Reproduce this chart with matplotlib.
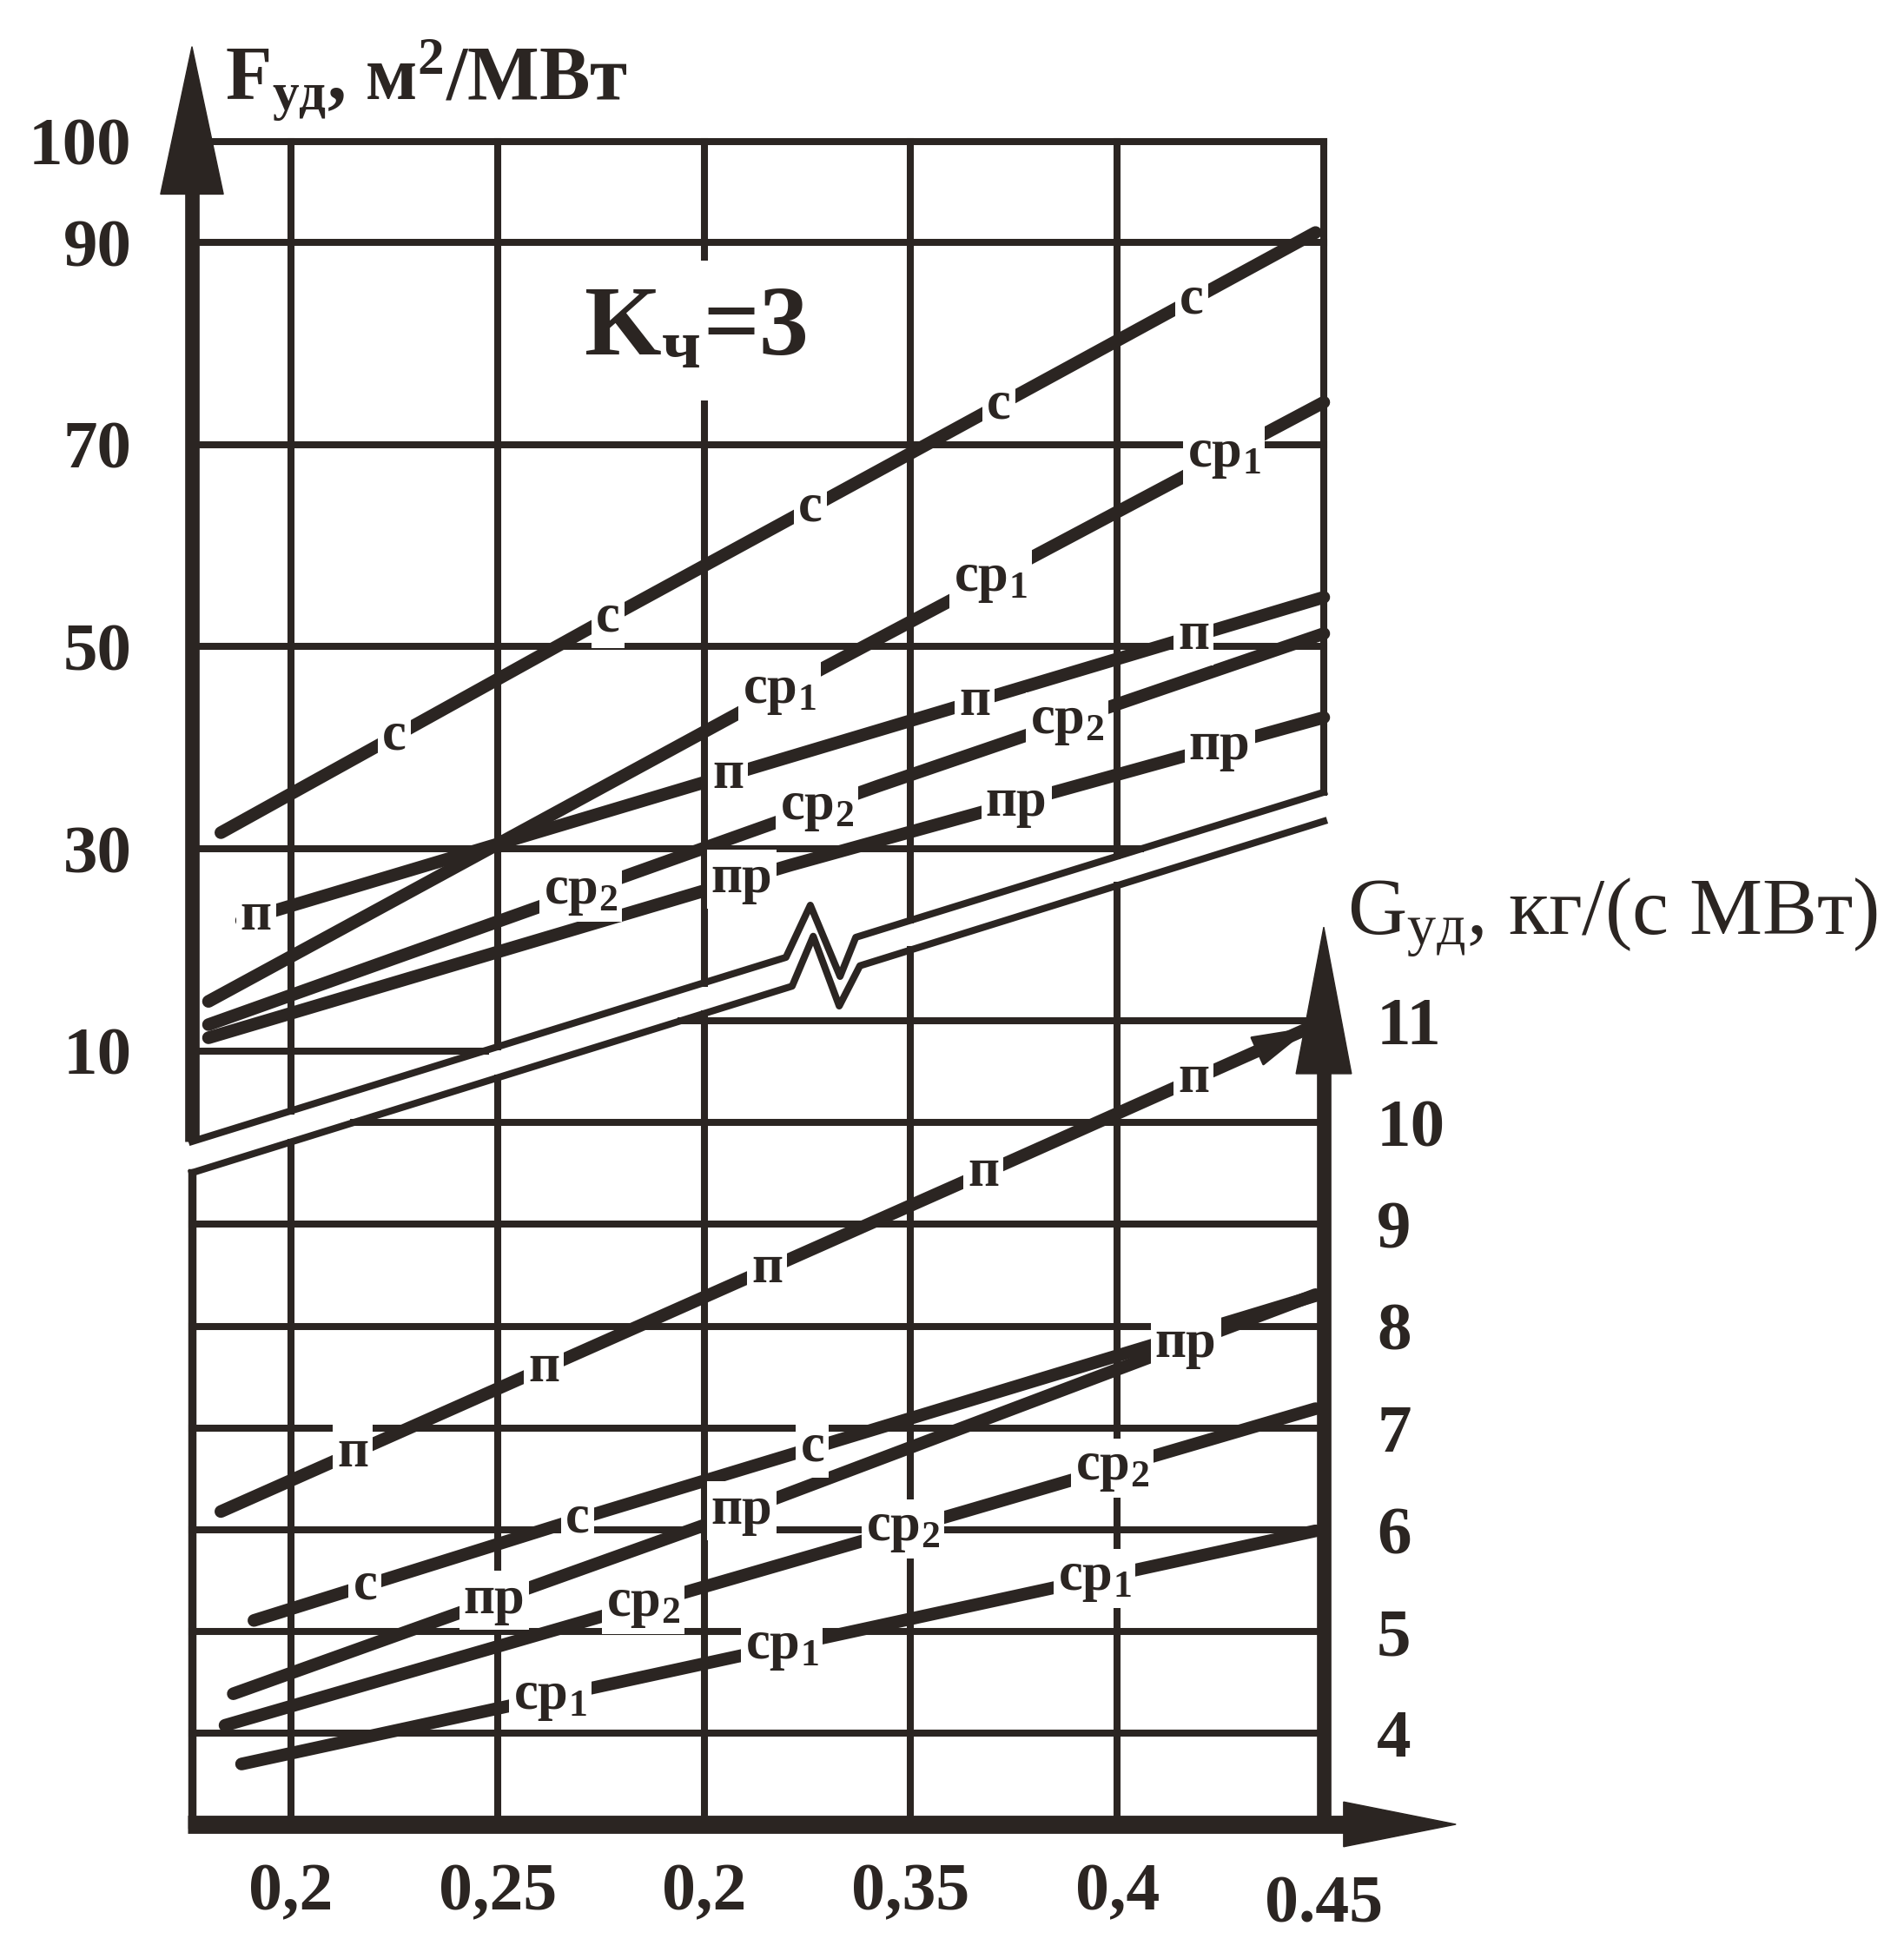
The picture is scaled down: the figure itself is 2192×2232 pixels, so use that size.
import numpy as np
import matplotlib
matplotlib.use("Agg")
import matplotlib.pyplot as plt
import matplotlib.transforms as mtransforms
from matplotlib.patches import Polygon

plt.rcParams['font.family'] = ['Liberation Serif', 'DejaVu Serif']
plt.rcParams['mathtext.default'] = 'regular'

INK = '#2b2522'

# x axis (common)
x_ticks = [0.2, 0.25, 0.3, 0.35, 0.4, 0.45]
x_tick_labels = ['0,2', '0,25', '0,2', '0,35', '0,4', '0.45']
X_LEFT, X_RIGHT = 0.176, 0.45

# upper panel, F_ud (m2/MW)
f_ticks = [100, 90, 70, 50, 30, 10]
up_c_x = [0.183, 0.273, 0.448]
up_c = [31.6, 52.0, 91.0]
up_sr1_x = [0.180, 0.310, 0.450]
up_sr1 = [14.9, 43.8, 74.2]
up_p_x = [0.188, 0.301, 0.450]
up_p = [22.9, 36.7, 54.9]
up_sr2_x = [0.180, 0.342, 0.450]
up_sr2 = [12.6, 36.2, 51.3]
up_pr_x = [0.180, 0.321, 0.450]
up_pr = [11.3, 28.4, 43.0]

# lower panel, G_ud (kg/(s MW))
g_ticks = [4, 5, 6, 7, 8, 9, 10, 11]
lo_p_x = [0.183, 0.368, 0.447]
lo_p = [6.18, 9.51, 10.94]
lo_c_x = [0.191, 0.269, 0.448]
lo_c = [5.11, 6.10, 8.30]
lo_pr_x = [0.186, 0.301, 0.448]
lo_pr = [4.39, 6.06, 8.31]
lo_sr2_x = [0.184, 0.363, 0.448]
lo_sr2 = [4.08, 6.18, 7.19]
lo_sr1_x = [0.188, 0.338, 0.448]
lo_sr1 = [3.70, 5.02, 5.99]

# break band between the panels (with the zigzag mark)
band_up_x = [0.176, 0.3198, 0.3257, 0.3329, 0.3367, 0.45]
band_up_f = [1.03, 19.26, 24.42, 17.37, 21.24, 35.6]
band_lo_x = [0.176, 0.3213, 0.3264, 0.3327, 0.3377, 0.45]
band_lo_g = [9.507, 11.34, 11.83, 11.145, 11.54, 12.96]


def band_f(x):
    return np.interp(x, [band_up_x[0], band_up_x[-1]], [band_up_f[0], band_up_f[-1]])


def band_g(x):
    return np.interp(x, [band_lo_x[0], band_lo_x[-1]], [band_lo_g[0], band_lo_g[-1]])


fig = plt.figure(figsize=(21.92, 22.32), dpi=100)
fig.patch.set_facecolor('white')
rect = [221 / 2192, 1 - 2100 / 2232, (1524 - 221) / 2192, (2100 - 161) / 2232]
ax_lo = fig.add_axes(rect)
ax_up = fig.add_axes(rect)
for ax in (ax_lo, ax_up):
    ax.set_xlim(X_LEFT, X_RIGHT)
    ax.patch.set_visible(False)
    for s in ax.spines.values():
        s.set_visible(False)
ax_up.set_ylim(-66.55, 100.17)
ax_lo.set_ylim(3.1075, 19.652)
G_BOTTOM = 3.1075

GRID_LW = 5.8
SER_LW = 10.5
AX_LW = 12

# ticks
ax_up.set_xticks([])
ax_up.set_yticks(f_ticks, labels=[str(v) for v in f_ticks])
ax_up.tick_params(axis='y', length=0, pad=50, labelsize=57, labelcolor=INK)
ax_lo.set_xticks(x_ticks, labels=x_tick_labels)
ax_lo.tick_params(axis='x', length=0, pad=32, labelsize=56, labelcolor=INK)
ax_lo.yaxis.tick_right()
ax_lo.set_yticks(g_ticks, labels=[str(v) for v in g_ticks])
ax_lo.tick_params(axis='y', length=0, pad=44, labelsize=57, labelcolor=INK)
for lbl in ax_lo.get_xticklabels() + ax_lo.get_yticklabels() + ax_up.get_yticklabels():
    lbl.set_fontweight('bold')
last = ax_lo.get_xticklabels()[-1]
last.set_transform(last.get_transform() + mtransforms.ScaledTranslation(0, -0.14, fig.dpi_scale_trans))

# upper grid
for f in f_ticks:
    x_end = X_RIGHT
    if band_f(X_RIGHT) > f:
        x_end = np.interp(f, [band_up_f[0], band_up_f[-1]], [band_up_x[0], band_up_x[-1]])
    ax_up.plot([X_LEFT, x_end], [f, f], color=INK, lw=GRID_LW, zorder=1, clip_on=False)
for xv in x_ticks[:-1]:
    ax_up.plot([xv, xv], [band_f(xv), 100], color=INK, lw=GRID_LW, zorder=1, clip_on=False)
ax_up.plot([X_RIGHT, X_RIGHT], [band_f(X_RIGHT), 100], color=INK, lw=GRID_LW, zorder=1, clip_on=False)

# lower grid
for g in g_ticks:
    x_start = X_LEFT
    if band_g(X_LEFT) < g:
        x_start = np.interp(g, [band_lo_g[0], band_lo_g[-1]], [band_lo_x[0], band_lo_x[-1]])
    ax_lo.plot([x_start, X_RIGHT], [g, g], color=INK, lw=GRID_LW, zorder=1, clip_on=False)
for xv in x_ticks[:-1]:
    ax_lo.plot([xv, xv], [G_BOTTOM, band_g(xv)], color=INK, lw=GRID_LW, zorder=1, clip_on=False)
ax_lo.plot([X_LEFT, X_LEFT], [G_BOTTOM, band_g(X_LEFT)], color=INK, lw=GRID_LW + 1, zorder=1, clip_on=False)

# break band
ax_up.plot(band_up_x, band_up_f, color=INK, lw=GRID_LW, zorder=2, clip_on=False)
ax_lo.plot(band_lo_x, band_lo_g, color=INK, lw=GRID_LW, zorder=2, clip_on=False)


def draw_series(ax, xs, ys, name, label_x, arrow=False):
    ax.plot(xs, ys, color=INK, lw=SER_LW, solid_capstyle='round', zorder=3, clip_on=False)
    if arrow:
        ax.annotate('', xy=(xs[-1], ys[-1]), xytext=(xs[-2], ys[-2]),
                    arrowprops=dict(arrowstyle='-|>,head_length=1.5,head_width=0.4',
                                    mutation_scale=30, color=INK, lw=2,
                                    shrinkA=0, shrinkB=0),
                    zorder=3)
    for lx in label_x:
        ly = np.interp(lx, xs, ys)
        ax.text(lx, ly, name, ha='center', va='center', fontsize=45, fontweight='bold',
                color=INK, zorder=5,
                bbox=dict(boxstyle='square,pad=0.08', fc='white', ec='none'))


draw_series(ax_up, up_c_x, up_c, 'с', [0.225, 0.2767, 0.3257, 0.3714, 0.418])
draw_series(ax_up, up_sr1_x, up_sr1, 'ср$_1$', [0.3182, 0.3693, 0.4258])
draw_series(ax_up, up_p_x, up_p, 'п', [0.1915, 0.3058, 0.3655, 0.4185])
draw_series(ax_up, up_sr2_x, up_sr2, 'ср$_2$', [0.2702, 0.3272, 0.3878])
draw_series(ax_up, up_pr_x, up_pr, 'пр', [0.3091, 0.3756, 0.4248])

draw_series(ax_lo, lo_p_x, lo_p, 'п', [0.2149, 0.2612, 0.3152, 0.3676, 0.4185], arrow=True)
draw_series(ax_lo, lo_c_x, lo_c, 'с', [0.2179, 0.2694, 0.3262])
draw_series(ax_lo, lo_pr_x, lo_pr, 'пр', [0.2492, 0.3091, 0.4166])
draw_series(ax_lo, lo_sr2_x, lo_sr2, 'ср$_2$', [0.2852, 0.3482, 0.3987])
draw_series(ax_lo, lo_sr1_x, lo_sr1, 'ср$_1$', [0.2627, 0.3188, 0.3945])

# axes with arrows
ax_up.plot([X_LEFT, X_LEFT], [band_f(X_LEFT), 97], color=INK, lw=AX_LW, zorder=6,
           solid_capstyle='butt', clip_on=False)
ax_up.add_patch(Polygon([(X_LEFT - 0.0076, 94.8), (X_LEFT, 109.4), (X_LEFT + 0.0076, 94.8)],
                        closed=True, color=INK, zorder=6, clip_on=False))
ax_lo.plot([X_RIGHT, X_RIGHT], [G_BOTTOM - 0.08, 10.6], color=INK, lw=AX_LW, zorder=6,
           solid_capstyle='butt', clip_on=False)
ax_lo.add_patch(Polygon([(X_RIGHT - 0.0067, 10.48), (X_RIGHT, 11.92), (X_RIGHT + 0.0067, 10.48)],
                        closed=True, color=INK, zorder=6, clip_on=False))
ax_lo.plot([X_LEFT - 0.001, 0.457], [G_BOTTOM, G_BOTTOM], color=INK, lw=15, zorder=6,
           solid_capstyle='butt', clip_on=False)
ax_lo.add_patch(Polygon([(0.4548, G_BOTTOM + 0.22), (0.482, G_BOTTOM), (0.4548, G_BOTTOM - 0.22)],
                        closed=True, color=INK, zorder=6, clip_on=False))

# titles
ax_up.text(0.2978, 81.3, 'K$_ч$=3', fontsize=82, fontweight='bold', color=INK,
           ha='center', va='center', zorder=5,
           bbox=dict(boxstyle='square,pad=0.25', fc='white', ec='none'))
ax_up.text(0.184, 104.2, 'F$_{уд}$, м$^2$/МВт', fontsize=63, fontweight='bold', color=INK,
           ha='left', va='baseline')
ax_lo.text(0.4557, 11.85, 'G$_{уд}$, кг/(с МВт)', fontsize=68, color=INK,
           ha='left', va='baseline')

fig.savefig('out.png', dpi=100, facecolor='white')
